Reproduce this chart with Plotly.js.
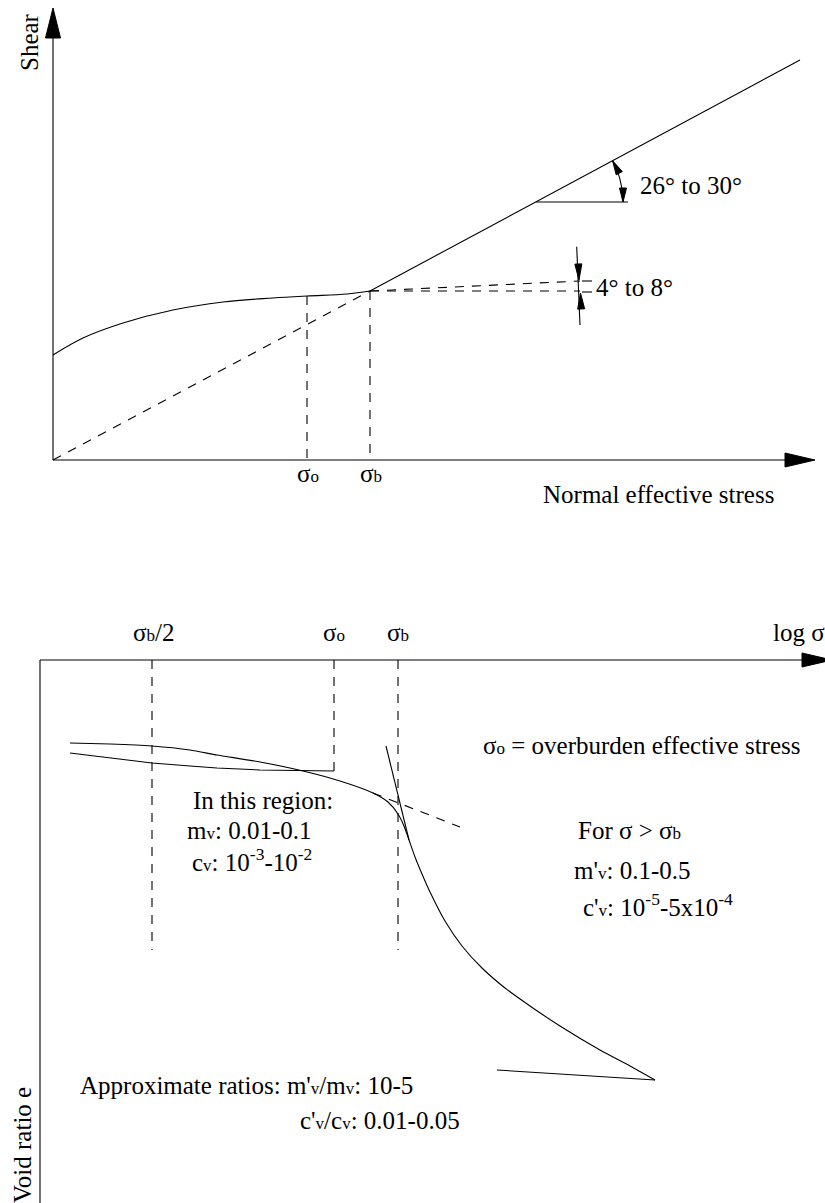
<!DOCTYPE html>
<html><head><meta charset="utf-8">
<script src="https://cdn.plot.ly/plotly-3.0.1.min.js"></script>
<style>html,body{margin:0;padding:0;background:#fff;}</style>
</head><body><div id="chart" style="width:825px;height:1203px;"></div>
<script>
// ===== Upper diagram: shear vs normal effective stress (drawing units) =====
const shearAxisX = [53, 53],   shearAxisY = [460, 36];
const normalAxisX = [53, 786], normalAxisY = [460, 460];
const shearCurveX = [53, 83, 123, 173, 223, 273, 307, 347, 370];
const shearCurveY = [355, 338, 323, 310, 302, 298, 296, 294, 291];
const envelopeX = [370, 800], envelopeY = [291, 60];
const originLineX = [53, 370], originLineY = [460, 291];
const sigmaOX = [307, 307], sigmaOY = [296, 460];
const sigmaBX = [370, 370], sigmaBY = [291, 460];
const lowAngleX = [370, 580], lowAngleY = [291, 281];
const horizRefX = [370, 580], horizRefY = [291, 291];
const highRefX = [536, 628], highRefY = [202, 202];
const tickX = [582, 592], tickUpY = [281, 281], tickLoY = [292, 292];
const smallArrowX = [576.7, 580], smallArrowY = [246.7, 325];

// ===== Lower diagram: void ratio vs log sigma =====
const logAxisX = [40, 803], logAxisY = [660, 660];
const eAxisX = [40, 40], eAxisY = [660, 1203];
const halfBX = [152, 152], halfBY = [660, 950];
const sigO2X = [334, 334], sigO2Y = [660, 771];
const sigB2X = [398, 398], sigB2Y = [660, 950];
const recompX = [70, 110, 152, 190, 217, 260, 303, 334];
const recompY = [753, 758, 763, 766, 768, 770, 771, 771];
const virginX = [70, 110, 152, 190, 217, 260, 303, 340, 373, 388, 398, 404, 409, 415, 422, 430, 445, 462, 482, 505, 530, 560, 600, 630, 655];
const virginY = [743, 744, 746, 750, 755, 762, 771, 781, 793, 802, 814, 826, 840, 857, 874, 892, 921, 946, 968, 988, 1006, 1026, 1050, 1066, 1080];
const steepX = [386, 409], steepY = [746, 840];
const flatTanX = [373, 460], flatTanY = [793, 827];
const reboundX = [497, 655], reboundY = [1070, 1080];

const labels = [
  "Shear", "26° to 30°", "4° to 8°",
  "σ<span style='font-size:17px'>o</span>", "σ<span style='font-size:17px'>b</span>",
  "Normal effective stress",
  "σ<span style='font-size:17px'>b</span>/2", "σ<span style='font-size:17px'>o</span>", "σ<span style='font-size:17px'>b</span>", "log σ",
  "σ<span style='font-size:17px'>o</span> = overburden effective stress",
  "In this region:",
  "m<span style='font-size:17px'>v</span>: 0.01-0.1",
  "c<span style='font-size:17px'>v</span>: 10<sup>-3</sup>-10<sup>-2</sup>",
  "For σ &gt; σ<span style='font-size:17px'>b</span>",
  "m'<span style='font-size:17px'>v</span>: 0.1-0.5",
  "c'<span style='font-size:17px'>v</span>: 10<sup>-5</sup>-5x10<sup>-4</sup>",
  "Approximate ratios: m'<span style='font-size:17px'>v</span>/m<span style='font-size:17px'>v</span>: 10-5",
  "c'<span style='font-size:17px'>v</span>/c<span style='font-size:17px'>v</span>: 0.01-0.05",
  "Void ratio e"
];

function ln(x, y, dash) {
  return {x: x, y: y, type: 'scatter', mode: 'lines', hoverinfo: 'skip', showlegend: false,
          line: {color: '#000', width: 1.1, dash: dash || 'solid'}};
}
const DASH = '9px,8px';
const traces = [
  ln(shearAxisX, shearAxisY), ln(normalAxisX, normalAxisY),
  ln(shearCurveX, shearCurveY, null), ln(envelopeX, envelopeY),
  ln(originLineX, originLineY, DASH), ln(sigmaOX, sigmaOY, DASH), ln(sigmaBX, sigmaBY, DASH),
  ln(lowAngleX, lowAngleY, DASH), ln(horizRefX, horizRefY, DASH),
  ln(highRefX, highRefY), ln(tickX, tickUpY), ln(tickX, tickLoY), ln(smallArrowX, smallArrowY),
  ln(logAxisX, logAxisY), ln(eAxisX, eAxisY),
  ln(halfBX, halfBY, DASH), ln(sigO2X, sigO2Y, DASH), ln(sigB2X, sigB2Y, DASH),
  ln(recompX, recompY), ln(virginX, virginY), ln(steepX, steepY),
  ln(flatTanX, flatTanY, DASH), ln(reboundX, reboundY)
];
traces[2].line.shape = 'spline';
traces[19].line.shape = 'spline';
traces[19].line.smoothing = 0.6;

// arc for the 26-30 degree angle, centred on the vertex of the envelope
const vx = 536, vy = 202, r = 87;
const ang = Math.atan((envelopeY[0] - envelopeY[1]) / (envelopeX[1] - envelopeX[0]));
const arcX = [], arcY = [];
for (let i = 0; i <= 20; i++) { const a = ang * i / 20; arcX.push(vx + r * Math.cos(a)); arcY.push(vy - r * Math.sin(a)); }
traces.push(ln(arcX, arcY));

function tri(tx, ty, dx, dy, len, hw) {
  const n = Math.hypot(dx, dy); dx /= n; dy /= n;
  const bx = tx - dx * len, by = ty - dy * len;
  const px = -dy * hw, py = dx * hw;
  return {type: 'path', xref: 'x', yref: 'y', fillcolor: '#000', line: {color: '#000', width: 1},
          path: `M${tx},${ty} L${bx + px},${by + py} L${bx - px},${by - py} Z`};
}
const shapes = [
  tri(53, 8, 0, -1, 30, 7.5),
  tri(815, 460, 1, 0, 30, 7),
  tri(832, 660, 1, 0, 30, 7),
  tri(579, 280, 0.042, 1, 16, 3.5),
  tri(580.5, 293, -0.042, -1, 16, 3.5),
  tri(arcX[20], arcY[20], -Math.sin(ang), -Math.cos(ang), 14, 3.5),
  tri(arcX[0], arcY[0], 0, 1, 14, 3.5)
];

const F = {family: 'Liberation Serif, Times New Roman, serif', size: 25, color: '#000'};
function ann(i, x, y, xa, rot) {
  return {text: labels[i], x: x, y: y, xref: 'x', yref: 'y', showarrow: false,
          xanchor: xa || 'left', yanchor: 'middle', font: F, textangle: rot || 0};
}
const annotations = [
  ann(0, 29, 42, 'center', -90), ann(1, 638, 185), ann(2, 594, 287),
  ann(3, 308, 473, 'center'), ann(4, 371, 473, 'center'),
  ann(5, 541, 494),
  ann(6, 153, 632, 'center'), ann(7, 334, 632, 'center'), ann(8, 398, 632, 'center'), ann(9, 771, 632),
  ann(10, 481, 745),
  ann(11, 191, 800), ann(12, 185, 830), ann(13, 190, 860),
  ann(14, 576, 830), ann(15, 572, 870), ann(16, 581, 905),
  ann(17, 78, 1085), ann(18, 298, 1120),
  ann(19, 22, 1145, 'center', -90)
];

const layout = {
  width: 825, height: 1203, margin: {l: 0, r: 0, t: 0, b: 0},
  paper_bgcolor: '#fff', plot_bgcolor: '#fff',
  xaxis: {range: [0, 825], visible: false, fixedrange: true},
  yaxis: {range: [1203, 0], visible: false, fixedrange: true},
  shapes: shapes, annotations: annotations, showlegend: false
};
Plotly.newPlot('chart', traces, layout, {staticPlot: true});
</script></body></html>
